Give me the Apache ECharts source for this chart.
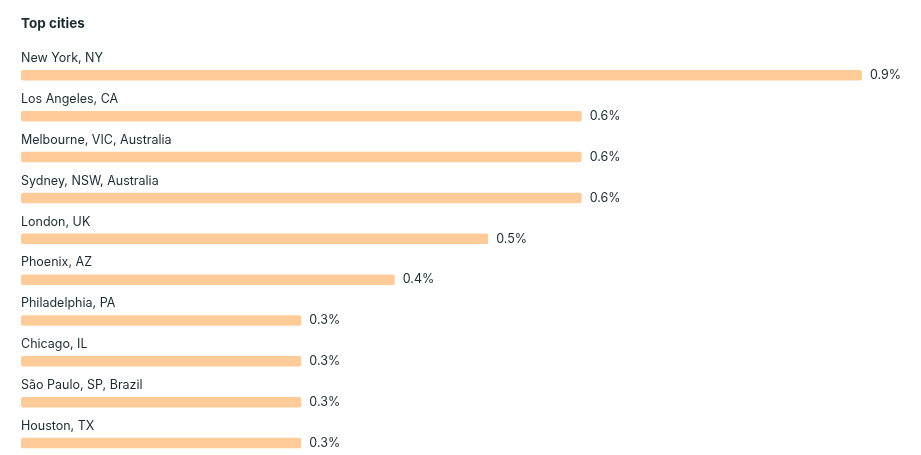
<!DOCTYPE html>
<html>
<head>
<meta charset="utf-8">
<script src="https://cdn.jsdelivr.net/npm/echarts@6/dist/echarts.min.js"></script>
<style>
html,body{margin:0;padding:0;background:#fff;overflow:hidden;}
#chart{width:921px;height:470px;}
</style>
</head>
<body>
<div id="chart"></div>
<script>
const titleText = 'Top cities';
const cities = ['New York, NY','Los Angeles, CA','Melbourne, VIC, Australia','Sydney, NSW, Australia','London, UK','Phoenix, AZ','Philadelphia, PA','Chicago, IL','São Paulo, SP, Brazil','Houston, TX'];
const shares = [0.9, 0.6, 0.6, 0.6, 0.5, 0.4, 0.3, 0.3, 0.3, 0.3];

const FONT = 'Inter, "Noto Sans", sans-serif';
const TEXT = '#1c2b33';
const chart = echarts.init(document.getElementById('chart'), null, {renderer:'canvas'});
chart.setOption({
  animation:false,
  backgroundColor:'#ffffff',
  title:{text:titleText,left:21,top:17,padding:0,textStyle:{fontFamily:FONT,fontSize:13.5,fontWeight:'bold',color:TEXT}},
  grid:{left:21,right:59,top:54.9,height:408.6,containLabel:false},
  xAxis:{type:'value',min:0,max:0.9,show:false},
  yAxis:{type:'category',data:cities,inverse:true,
    axisLine:{show:false},axisTick:{show:false},splitLine:{show:false},
    axisLabel:{inside:true,margin:0,align:'left',verticalAlign:'bottom',padding:[0,0,9,0],lineHeight:16,
      fontFamily:FONT,fontSize:12.5,color:TEXT}},
  series:[{type:'bar',data:shares,barWidth:10.5,
    itemStyle:{color:'#ffcc99',borderRadius:2},
    label:{show:true,position:'right',distance:8,formatter:'{c}%',fontFamily:FONT,fontSize:12.5,color:TEXT}}]
});
</script>
</body>
</html>
